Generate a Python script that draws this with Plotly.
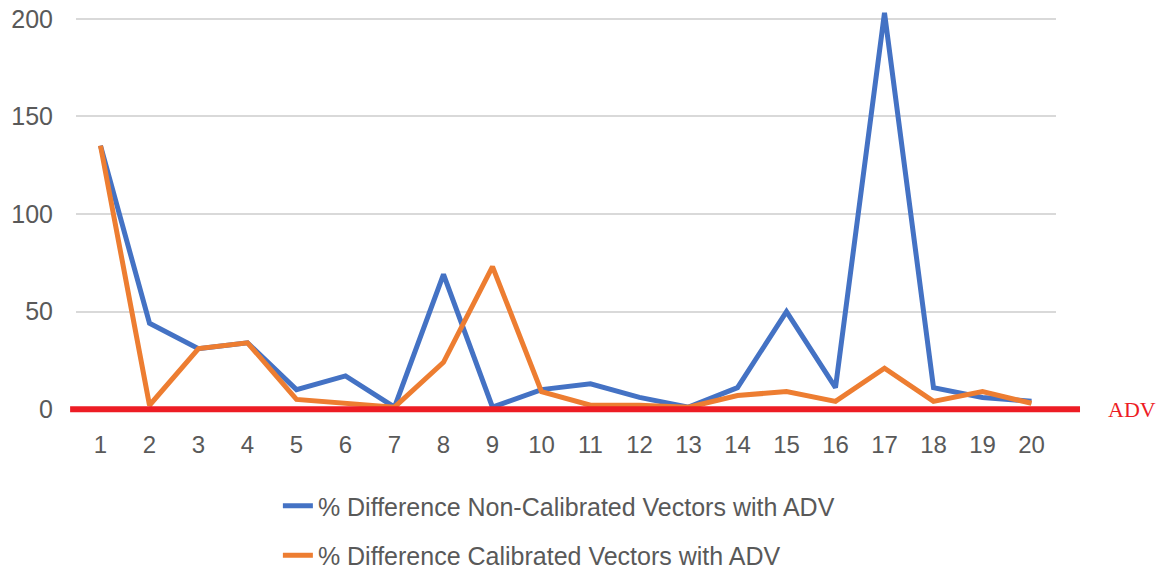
import plotly.graph_objects as go

# Vector index along the profile
vectors = list(range(1, 21))

# % difference of each vector against the ADV reference
non_calibrated = [135, 44, 31, 34, 10, 17, 1, 69, 1, 10, 13, 6, 1, 11, 50, 11, 203, 11, 6, 4]
calibrated = [135, 2, 31, 34, 5, 3, 1, 24, 73, 9, 2, 2, 1, 7, 9, 4, 21, 4, 9, 3]

# ADV reference level
adv_baseline = 0

y_ticks = [0, 50, 100, 150, 200]

blue = "#4472C4"
orange = "#ED7D31"
red = "#ED1C24"
gray_text = "#595959"

fig = go.Figure()
fig.add_trace(go.Scatter(
    x=vectors, y=non_calibrated, mode="lines",
    name="% Difference Non-Calibrated Vectors with ADV",
    line=dict(color=blue, width=5), legendgroup="a",
))
fig.add_trace(go.Scatter(
    x=vectors, y=calibrated, mode="lines",
    name="% Difference Calibrated Vectors with ADV",
    line=dict(color=orange, width=5), legendgroup="b",
))

# ADV reference line, running slightly past the plot area
fig.add_shape(
    type="line", xref="paper", yref="y",
    x0=-0.006, x1=1.0245, y0=adv_baseline, y1=adv_baseline,
    line=dict(color=red, width=6), layer="above",
)
fig.add_annotation(
    xref="paper", yref="y", x=1.051, y=adv_baseline,
    text="ADV", showarrow=False, xanchor="left", yanchor="middle",
    font=dict(family="Liberation Serif", size=22, color=red),
)

fig.update_layout(
    width=1170, height=577,
    margin=dict(l=76, r=114, t=9, b=162, autoexpand=False),
    plot_bgcolor="white", paper_bgcolor="white",
    font=dict(family="Liberation Sans", color=gray_text),
    showlegend=True,
    legend=dict(
        x=0.206, y=-0.1675, xanchor="left", yanchor="top",
        traceorder="grouped", tracegroupgap=14,
        font=dict(size=25, color=gray_text),
        itemwidth=30,
    ),
    xaxis=dict(
        tickmode="array", tickvals=vectors, ticktext=[str(v) for v in vectors],
        range=[0.5, 20.5], showgrid=False, zeroline=False, showline=False,
        tickfont=dict(size=24), ticks="", ticklabelstandoff=13,
    ),
    yaxis=dict(
        tickmode="array", tickvals=y_ticks, ticktext=[str(v) for v in y_ticks],
        range=[-3, 205], showgrid=True, gridcolor="#D9D9D9", gridwidth=2,
        zeroline=False, showline=False, tickfont=dict(size=25),
        ticks="", ticklabelstandoff=22,
    ),
)

fig.write_html("out.html")
